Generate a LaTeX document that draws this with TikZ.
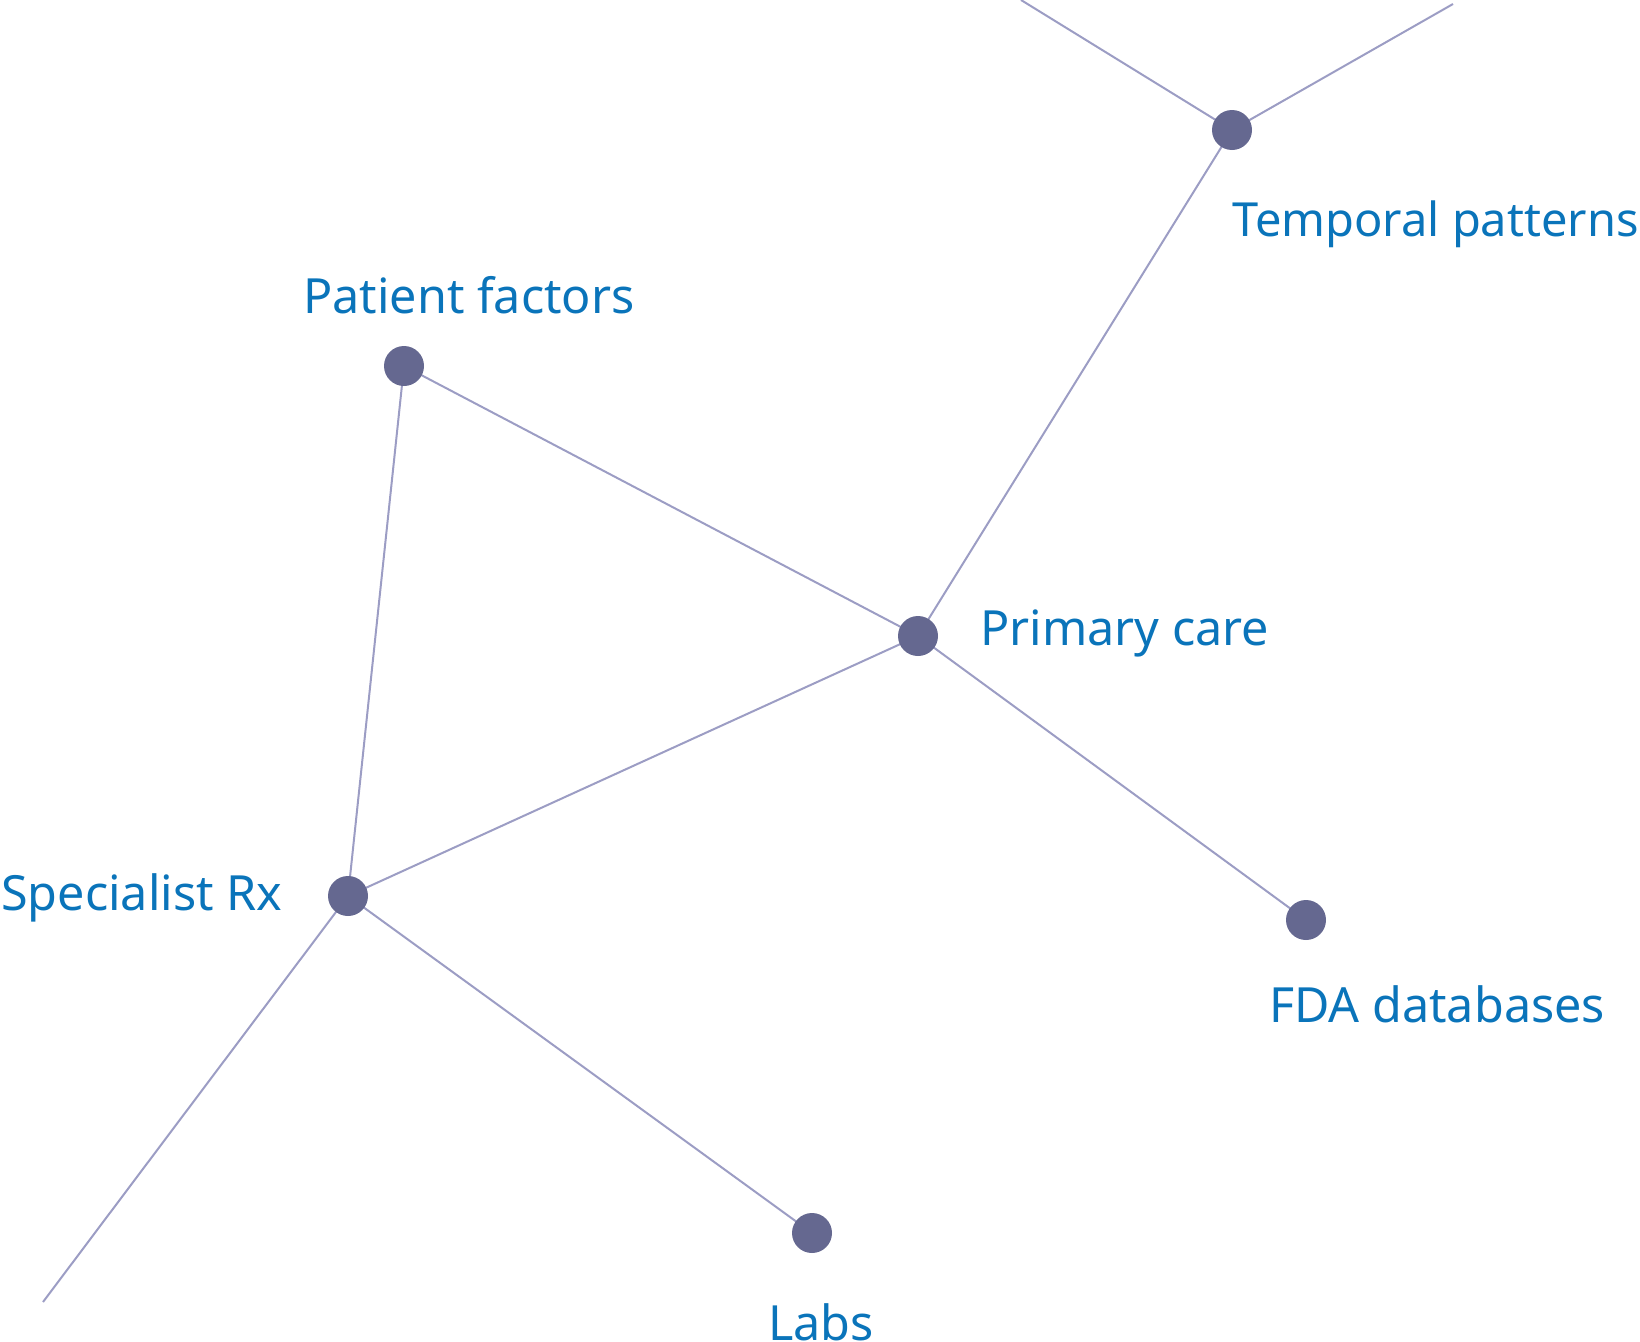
\documentclass[tikz,border=0pt]{standalone}
\usepackage{fontspec}
\setmainfont{Noto Sans}
\definecolor{dotc}{HTML}{656890}
\definecolor{linec}{HTML}{9C9DC4}
\definecolor{textc}{HTML}{0A74BA}
\begin{document}
\begin{tikzpicture}[x=1pt,y=-1pt,
  dot/.style={circle,fill=dotc,inner sep=0pt,minimum size=40pt},
  link/.style={draw=linec,line width=2pt},
  lbl/.style={text=textc,inner sep=0pt,font=\fontsize{48.5}{58}\selectfont}]
\useasboundingbox (0,0) rectangle (1640,1341);
\coordinate (tl) at (1021,0);
\coordinate (tr) at (1453,4);
\coordinate (bl) at (43,1302);
\path (1232,130) coordinate (cT)
      (404,366) coordinate (cP)
      (918,636) coordinate (cM)
      (348,896) coordinate (cS)
      (1306,920) coordinate (cF)
      (812,1233) coordinate (cL);
\draw[link] (tl) -- (cT) -- (tr);
\draw[link] (cT) -- (cM);
\draw[link] (cP) -- (cM);
\draw[link] (cP) -- (cS);
\draw[link] (cM) -- (cS);
\draw[link] (cM) -- (cF);
\draw[link] (cS) -- (cL);
\draw[link] (cS) -- (bl);
\node[dot] (T) at (cT) {};
\node[dot] (P) at (cP) {};
\node[dot] (M) at (cM) {};
\node[dot] (S) at (cS) {};
\node[dot] (F) at (cF) {};
\node[dot] (L) at (cL) {};
\node[lbl,anchor=base west,font=\fontsize{47}{56}\selectfont] (tT) at (1232,236) {Temporal patterns};
\node[lbl,anchor=base west] (tP) at (303,313) {Patient factors};
\node[lbl,anchor=base west] (tM) at (980,645) {Primary care};
\node[lbl,anchor=base west] (tS) at (1,910) {Specialist Rx};
\node[lbl,anchor=base west] (tF) at (1269,1022) {FDA databases};
\node[lbl,anchor=base west] (tL) at (768,1340) {Labs};
\end{tikzpicture}
\end{document}
